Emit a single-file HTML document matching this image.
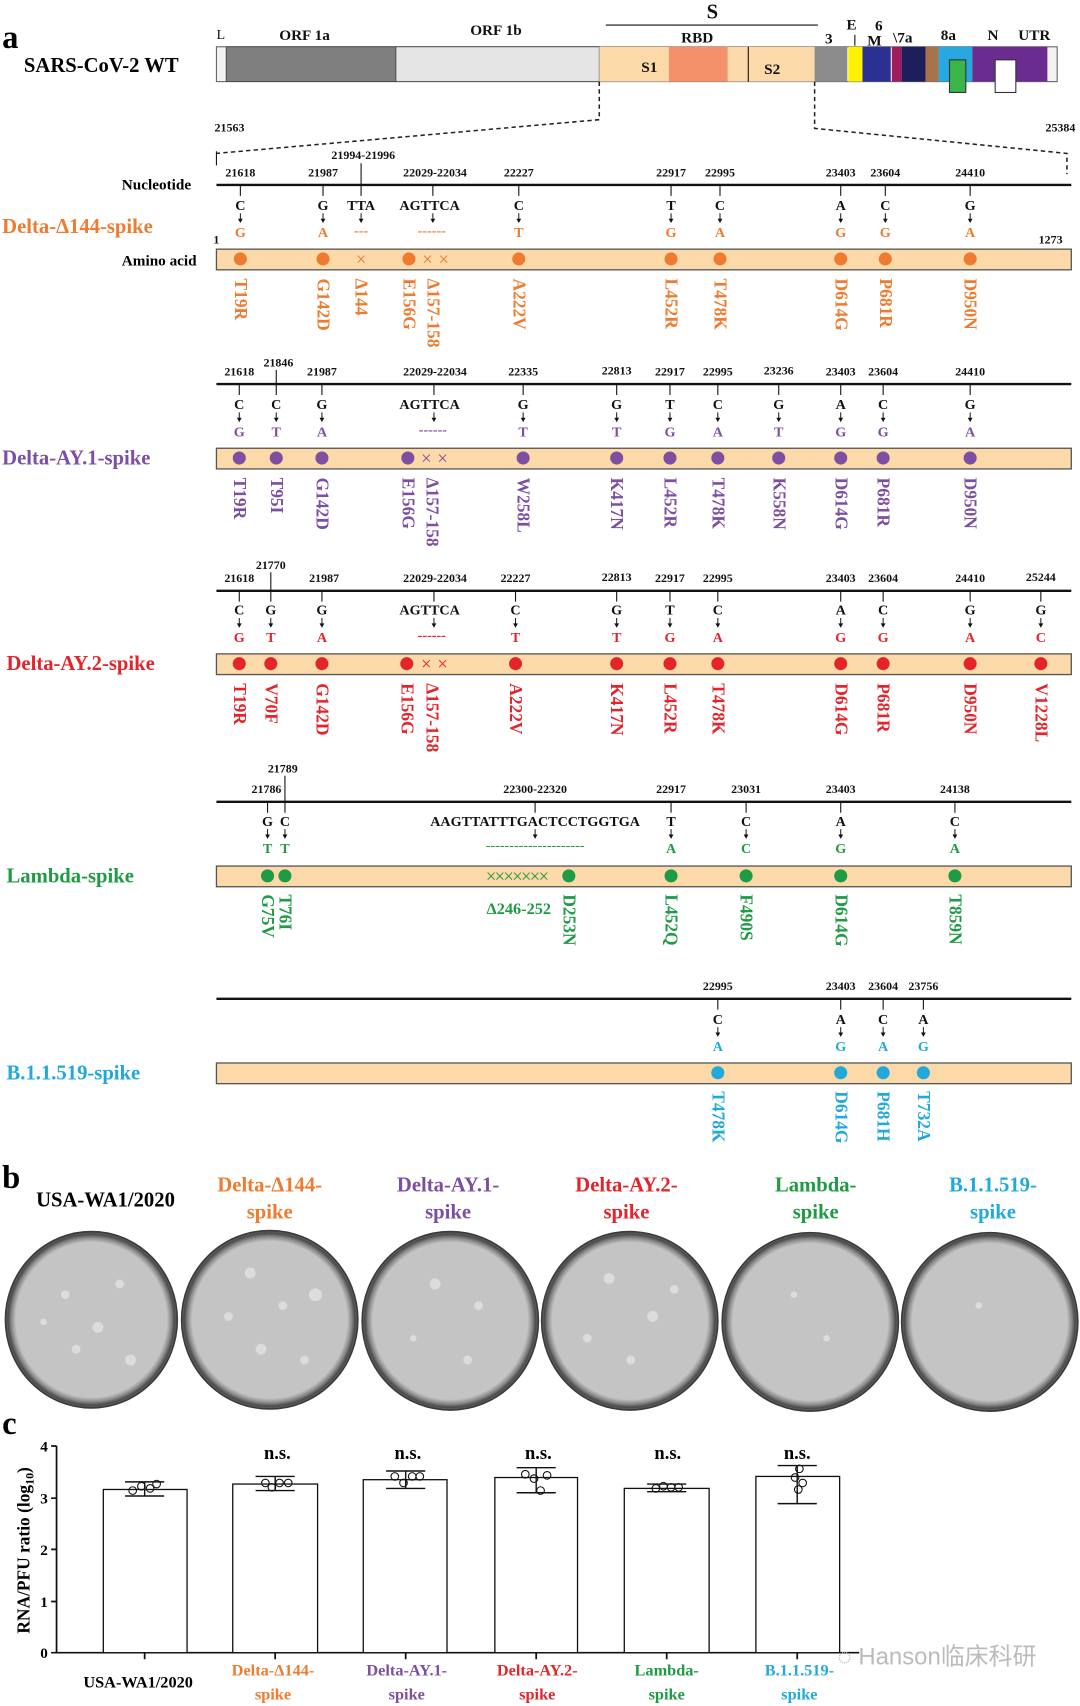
<!DOCTYPE html>
<html><head><meta charset="utf-8"><style>
html,body{margin:0;padding:0;background:#fff}
svg{display:block}
text{font-family:"Liberation Serif","Noto Serif CJK SC",serif;font-weight:bold}
.n{font-size:11px;text-anchor:middle;fill:#111}
.t{font-size:13px;text-anchor:middle;fill:#111}
.r{font-size:16px}
.h{font-size:19px}
.o{fill:#ee7b30}.p{fill:#7d4fa0}.d{fill:#e3252b}.g{fill:#1f9a45}.c{fill:#21a8dd}
.bar{fill:#fbd9a8;stroke:#555;stroke-width:1.2}
.k{stroke:#111;stroke-width:1}
.ar{stroke:#111;stroke-width:0.9;fill:none}
.hd{fill:#111}
.x{font-size:17px;text-anchor:middle;font-weight:normal}
</style></head><body>
<svg width="1080" height="1706" viewBox="0 0 993 1568" preserveAspectRatio="none" xmlns="http://www.w3.org/2000/svg">
<defs>
<radialGradient id="pl" cx="50%" cy="50%" r="50%"><stop offset="0.88" stop-color="#c4c4c4"/><stop offset="0.93" stop-color="#8a8a8a"/><stop offset="0.97" stop-color="#4a4a4a"/><stop offset="1" stop-color="#6a6a6a"/></radialGradient></defs>

<!-- panel a genome -->
<text x="2" y="44" style="font-size:30px">a</text>
<text x="22" y="66" class="h">SARS-CoV-2 WT</text>
<rect x="199" y="43" width="773" height="32" fill="#f2f2f2" stroke="#666"/>
<rect x="208" y="43" width="156" height="32" fill="#7f7f80" stroke="#444" stroke-width="0.8"/>
<rect x="364" y="43" width="187" height="32" fill="#e5e5e5" stroke="#444" stroke-width="0.8"/>
<rect x="551" y="43" width="198" height="32" fill="#fbd9a8"/>
<rect x="615" y="43" width="54" height="32" fill="#f3926a"/>
<line x1="688" y1="43" x2="688" y2="75" class="k"/>
<rect x="749" y="43" width="30" height="32" fill="#8c8c8c"/>
<rect x="780" y="43" width="13" height="32" fill="#fff200"/>
<rect x="793" y="43" width="26" height="32" fill="#2a3192"/>
<rect x="820" y="43" width="9" height="32" fill="#a01c5c"/>
<rect x="829" y="43" width="22" height="32" fill="#1c1f5c"/>
<rect x="851" y="43" width="12" height="32" fill="#a87348"/>
<rect x="863" y="43" width="31" height="32" fill="#27a8e0"/>
<rect x="894" y="43" width="69" height="32" fill="#6a2c91"/>
<rect x="873" y="55" width="15" height="30" fill="#3ab54a" stroke="#333"/>
<rect x="915" y="55" width="19" height="30" fill="#fff" stroke="#333"/>
<text x="597" y="66" class="t" style="font-size:14px">S1</text>
<text x="710" y="68" class="t" style="font-size:14px">S2</text>
<text x="203" y="36" class="t" style="font-weight:normal">L</text>
<text x="280" y="37" class="t" style="font-size:14px">ORF 1a</text>
<text x="456" y="32" class="t" style="font-size:14px">ORF 1b</text>
<text x="655" y="17" class="t" style="font-size:19px">S</text>
<line x1="557" y1="23" x2="752" y2="23" class="k"/>
<text x="641" y="39" class="t" style="font-size:14px">RBD</text>
<text x="762" y="40" class="t" style="font-size:14px">3</text>
<text x="783" y="27" class="t" style="font-size:14px">E</text>
<line x1="786" y1="32" x2="786" y2="42" class="k"/>
<text x="808" y="28" class="t" style="font-size:14px">6</text>
<text x="804" y="42" class="t" style="font-size:14px">M</text>
<text x="830" y="39" class="t" style="font-size:14px">\7a</text>
<text x="872" y="37" class="t" style="font-size:14px">8a</text>
<text x="913" y="37" class="t" style="font-size:14px">N</text>
<text x="951" y="37" class="t" style="font-size:14px">UTR</text>
<g stroke="#222" stroke-width="1.4" stroke-dasharray="4,3" fill="none">
<path d="M551 75 V110 L199 141"/><path d="M749 75 V118 L981 141 V160"/></g>
<line x1="199" y1="139" x2="199" y2="152" class="k"/>
<text x="211" y="121" class="n">21563</text>
<text x="975" y="121" class="n">25384</text>

<!-- Section 1 -->
<text x="112" y="174" style="font-size:14px">Nucleotide</text>
<text x="2" y="214" class="h o">Delta-Δ144-spike</text>
<text x="112" y="244" style="font-size:14px">Amino acid</text>
<text x="199" y="224" class="n">1</text><text x="966" y="224" class="n">1273</text>
<line x1="199" y1="170" x2="985" y2="170" stroke="#111" stroke-width="2.2"/>
<rect x="199" y="229" width="786" height="19" class="bar"/>
<g>
<text x="221" y="162" class="n">21618</text><text x="297" y="162" class="n">21987</text><text x="334" y="146" class="n">21994-21996</text><text x="400" y="162" class="n">22029-22034</text><text x="477" y="162" class="n">22227</text><text x="617" y="162" class="n">22917</text><text x="662" y="162" class="n">22995</text><text x="773" y="162" class="n">23403</text><text x="814" y="162" class="n">23604</text><text x="892" y="162" class="n">24410</text>
<path d="M221 170v10M297 170v10M332 150v30M398 170v10M477 170v10M617 170v10M662 170v10M773 170v10M814 170v10M892 170v10" class="k"/>
<text x="221" y="193" class="t">C</text><text x="297" y="193" class="t">G</text><text x="332" y="193" class="t">TTA</text><text x="395" y="193" class="t">AGTTCA</text><text x="477" y="193" class="t">C</text><text x="617" y="193" class="t">T</text><text x="662" y="193" class="t">C</text><text x="773" y="193" class="t">A</text><text x="814" y="193" class="t">C</text><text x="892" y="193" class="t">G</text>
<path d="M221 196v6M297 196v6M332 196v6M398 196v6M477 196v6M617 196v6M662 196v6M773 196v6M814 196v6M892 196v6" class="ar"/>
<path class="hd" d="M218.8 201h4.4l-2.2 4zM294.8 201h4.4l-2.2 4zM329.8 201h4.4l-2.2 4zM395.8 201h4.4l-2.2 4zM474.8 201h4.4l-2.2 4zM614.8 201h4.4l-2.2 4zM659.8 201h4.4l-2.2 4zM770.8 201h4.4l-2.2 4zM811.8 201h4.4l-2.2 4zM889.8 201h4.4l-2.2 4z"/>
<text x="221" y="218" class="t o">G</text><text x="297" y="218" class="t o">A</text><text x="332" y="216" class="t o">---</text><text x="397" y="216" class="t o">------</text><text x="477" y="218" class="t o">T</text><text x="617" y="218" class="t o">G</text><text x="662" y="218" class="t o">A</text><text x="773" y="218" class="t o">G</text><text x="814" y="218" class="t o">G</text><text x="892" y="218" class="t o">A</text>
<g class="o"><circle cx="221" cy="238" r="6"/><circle cx="297" cy="238" r="6"/><circle cx="376" cy="238" r="6"/><circle cx="477" cy="238" r="6"/><circle cx="617" cy="238" r="6"/><circle cx="662" cy="238" r="6"/><circle cx="773" cy="238" r="6"/><circle cx="814" cy="238" r="6"/><circle cx="892" cy="238" r="6"/></g>
<text x="332" y="244" class="x o">×</text><text x="393" y="244" class="x o">×</text><text x="408" y="244" class="x o">×</text>
<text transform="translate(216,256) rotate(90)" class="r o">T19R</text><text transform="translate(292,256) rotate(90)" class="r o">G142D</text><text transform="translate(327,256) rotate(90)" class="r o">Δ144</text><text transform="translate(371,256) rotate(90)" class="r o">E156G</text><text transform="translate(393,256) rotate(90)" class="r o">Δ157-158</text><text transform="translate(472,256) rotate(90)" class="r o">A222V</text><text transform="translate(612,256) rotate(90)" class="r o">L452R</text><text transform="translate(657,256) rotate(90)" class="r o">T478K</text><text transform="translate(768,256) rotate(90)" class="r o">D614G</text><text transform="translate(809,256) rotate(90)" class="r o">P681R</text><text transform="translate(887,256) rotate(90)" class="r o">D950N</text>
</g>

<!-- Section 2 -->
<text x="2" y="427" class="h p">Delta-AY.1-spike</text>
<line x1="199" y1="353" x2="985" y2="353" stroke="#111" stroke-width="2.2"/>
<rect x="199" y="412" width="786" height="19" class="bar"/>
<text x="220" y="345" class="n">21618</text><text x="256" y="337" class="n">21846</text><text x="296" y="345" class="n">21987</text><text x="400" y="345" class="n">22029-22034</text><text x="481" y="345" class="n">22335</text><text x="567" y="344" class="n">22813</text><text x="616" y="345" class="n">22917</text><text x="660" y="345" class="n">22995</text><text x="716" y="344" class="n">23236</text><text x="773" y="345" class="n">23403</text><text x="812" y="345" class="n">23604</text><text x="892" y="345" class="n">24410</text>
<path d="M220 353v10M254 340v23M296 353v10M399 353v10M481 353v10M567 353v10M616 353v10M660 353v10M716 353v10M773 353v10M812 353v10M892 353v10" class="k"/>
<text x="220" y="376" class="t">C</text><text x="254" y="376" class="t">C</text><text x="296" y="376" class="t">G</text><text x="395" y="376" class="t">AGTTCA</text><text x="481" y="376" class="t">G</text><text x="567" y="376" class="t">G</text><text x="616" y="376" class="t">T</text><text x="660" y="376" class="t">C</text><text x="716" y="376" class="t">G</text><text x="773" y="376" class="t">A</text><text x="812" y="376" class="t">C</text><text x="892" y="376" class="t">G</text>
<path d="M220 379v6M254 379v6M296 379v6M399 379v6M481 379v6M567 379v6M616 379v6M660 379v6M716 379v6M773 379v6M812 379v6M892 379v6" class="ar"/>
<path class="hd" d="M217.8 384h4.4l-2.2 4zM251.8 384h4.4l-2.2 4zM293.8 384h4.4l-2.2 4zM396.8 384h4.4l-2.2 4zM478.8 384h4.4l-2.2 4zM564.8 384h4.4l-2.2 4zM613.8 384h4.4l-2.2 4zM657.8 384h4.4l-2.2 4zM713.8 384h4.4l-2.2 4zM770.8 384h4.4l-2.2 4zM809.8 384h4.4l-2.2 4zM889.8 384h4.4l-2.2 4z"/>
<text x="220" y="401" class="t p">G</text><text x="254" y="401" class="t p">T</text><text x="296" y="401" class="t p">A</text><text x="398" y="399" class="t p">------</text><text x="481" y="401" class="t p">T</text><text x="567" y="401" class="t p">T</text><text x="616" y="401" class="t p">G</text><text x="660" y="401" class="t p">A</text><text x="716" y="401" class="t p">T</text><text x="773" y="401" class="t p">G</text><text x="812" y="401" class="t p">G</text><text x="892" y="401" class="t p">A</text>
<g class="p"><circle cx="220" cy="421" r="6"/><circle cx="254" cy="421" r="6"/><circle cx="296" cy="421" r="6"/><circle cx="375" cy="421" r="6"/><circle cx="481" cy="421" r="6"/><circle cx="567" cy="421" r="6"/><circle cx="616" cy="421" r="6"/><circle cx="660" cy="421" r="6"/><circle cx="716" cy="421" r="6"/><circle cx="773" cy="421" r="6"/><circle cx="812" cy="421" r="6"/><circle cx="892" cy="421" r="6"/></g>
<text x="392" y="427" class="x p">×</text><text x="407" y="427" class="x p">×</text>
<text transform="translate(215,439) rotate(90)" class="r p">T19R</text><text transform="translate(249,439) rotate(90)" class="r p">T95I</text><text transform="translate(291,439) rotate(90)" class="r p">G142D</text><text transform="translate(370,439) rotate(90)" class="r p">E156G</text><text transform="translate(392,439) rotate(90)" class="r p">Δ157-158</text><text transform="translate(476,439) rotate(90)" class="r p">W258L</text><text transform="translate(562,439) rotate(90)" class="r p">K417N</text><text transform="translate(611,439) rotate(90)" class="r p">L452R</text><text transform="translate(655,439) rotate(90)" class="r p">T478K</text><text transform="translate(711,439) rotate(90)" class="r p">K558N</text><text transform="translate(768,439) rotate(90)" class="r p">D614G</text><text transform="translate(807,439) rotate(90)" class="r p">P681R</text><text transform="translate(887,439) rotate(90)" class="r p">D950N</text>

<!-- Section 3 -->
<text x="6" y="616" class="h d">Delta-AY.2-spike</text>
<line x1="199" y1="543" x2="985" y2="543" stroke="#111" stroke-width="2.2"/>
<rect x="199" y="601" width="786" height="19" class="bar"/>
<text x="220" y="535" class="n">21618</text><text x="249" y="523" class="n">21770</text><text x="298" y="535" class="n">21987</text><text x="400" y="535" class="n">22029-22034</text><text x="474" y="535" class="n">22227</text><text x="567" y="534" class="n">22813</text><text x="616" y="535" class="n">22917</text><text x="660" y="535" class="n">22995</text><text x="773" y="535" class="n">23403</text><text x="812" y="535" class="n">23604</text><text x="892" y="535" class="n">24410</text><text x="957" y="534" class="n">25244</text>
<path d="M220 543v10M249 526v27M296 543v10M399 543v10M474 543v10M567 543v10M616 543v10M660 543v10M773 543v10M812 543v10M892 543v10M957 543v10" class="k"/>
<text x="220" y="565" class="t">C</text><text x="249" y="565" class="t">G</text><text x="296" y="565" class="t">G</text><text x="395" y="565" class="t">AGTTCA</text><text x="474" y="565" class="t">C</text><text x="567" y="565" class="t">G</text><text x="616" y="565" class="t">T</text><text x="660" y="565" class="t">C</text><text x="773" y="565" class="t">A</text><text x="812" y="565" class="t">C</text><text x="892" y="565" class="t">G</text><text x="957" y="565" class="t">G</text>
<path d="M220 568v6M249 568v6M296 568v6M399 568v6M474 568v6M567 568v6M616 568v6M660 568v6M773 568v6M812 568v6M892 568v6M957 568v6" class="ar"/>
<path class="hd" d="M217.8 573h4.4l-2.2 4zM246.8 573h4.4l-2.2 4zM293.8 573h4.4l-2.2 4zM396.8 573h4.4l-2.2 4zM471.8 573h4.4l-2.2 4zM564.8 573h4.4l-2.2 4zM613.8 573h4.4l-2.2 4zM657.8 573h4.4l-2.2 4zM770.8 573h4.4l-2.2 4zM809.8 573h4.4l-2.2 4zM889.8 573h4.4l-2.2 4zM954.8 573h4.4l-2.2 4z"/>
<text x="220" y="590" class="t d">G</text><text x="249" y="590" class="t d">T</text><text x="296" y="590" class="t d">A</text><text x="397" y="588" class="t d">------</text><text x="474" y="590" class="t d">T</text><text x="567" y="590" class="t d">T</text><text x="616" y="590" class="t d">G</text><text x="660" y="590" class="t d">A</text><text x="773" y="590" class="t d">G</text><text x="812" y="590" class="t d">G</text><text x="892" y="590" class="t d">A</text><text x="957" y="590" class="t d">C</text>
<g class="d"><circle cx="220" cy="610" r="6"/><circle cx="249" cy="610" r="6"/><circle cx="296" cy="610" r="6"/><circle cx="374" cy="610" r="6"/><circle cx="474" cy="610" r="6"/><circle cx="567" cy="610" r="6"/><circle cx="616" cy="610" r="6"/><circle cx="660" cy="610" r="6"/><circle cx="773" cy="610" r="6"/><circle cx="812" cy="610" r="6"/><circle cx="892" cy="610" r="6"/><circle cx="957" cy="610" r="6"/></g>
<text x="392" y="616" class="x d">×</text><text x="407" y="616" class="x d">×</text>
<text transform="translate(215,628) rotate(90)" class="r d">T19R</text><text transform="translate(244,628) rotate(90)" class="r d">V70F</text><text transform="translate(291,628) rotate(90)" class="r d">G142D</text><text transform="translate(369,628) rotate(90)" class="r d">E156G</text><text transform="translate(392,628) rotate(90)" class="r d">Δ157-158</text><text transform="translate(469,628) rotate(90)" class="r d">A222V</text><text transform="translate(562,628) rotate(90)" class="r d">K417N</text><text transform="translate(611,628) rotate(90)" class="r d">L452R</text><text transform="translate(655,628) rotate(90)" class="r d">T478K</text><text transform="translate(768,628) rotate(90)" class="r d">D614G</text><text transform="translate(807,628) rotate(90)" class="r d">P681R</text><text transform="translate(887,628) rotate(90)" class="r d">D950N</text><text transform="translate(952,628) rotate(90)" class="r d">V1228L</text>

<!-- Section 4 Lambda -->
<text x="6" y="811" class="h g">Lambda-spike</text>
<line x1="199" y1="737" x2="985" y2="737" stroke="#111" stroke-width="2.2"/>
<rect x="199" y="796" width="786" height="19" class="bar"/>
<text x="245" y="729" class="n">21786</text><text x="260" y="710" class="n">21789</text><text x="492" y="729" class="n">22300-22320</text><text x="617" y="729" class="n">22917</text><text x="686" y="729" class="n">23031</text><text x="773" y="729" class="n">23403</text><text x="878" y="729" class="n">24138</text>
<path d="M246 737v10M262 713v34M492 737v10M617 737v10M686 737v10M773 737v10M878 737v10" class="k"/>
<text x="246" y="759" class="t">G</text><text x="262" y="759" class="t">C</text><text x="492" y="759" class="t">AAGTTATTTGACTCCTGGTGA</text><text x="617" y="759" class="t">T</text><text x="686" y="759" class="t">C</text><text x="773" y="759" class="t">A</text><text x="878" y="759" class="t">C</text>
<path d="M246 762v6M262 762v6M492 762v6M617 762v6M686 762v6M773 762v6M878 762v6" class="ar"/>
<path class="hd" d="M243.8 767h4.4l-2.2 4zM259.8 767h4.4l-2.2 4zM489.8 767h4.4l-2.2 4zM614.8 767h4.4l-2.2 4zM683.8 767h4.4l-2.2 4zM770.8 767h4.4l-2.2 4zM875.8 767h4.4l-2.2 4z"/>
<text x="246" y="784" class="t g">T</text><text x="262" y="784" class="t g">T</text><text x="492" y="781" class="t g" style="font-weight:normal">---------------------</text><text x="617" y="784" class="t g">A</text><text x="686" y="784" class="t g">C</text><text x="773" y="784" class="t g">G</text><text x="878" y="784" class="t g">A</text>
<g class="g"><circle cx="246" cy="805" r="6"/><circle cx="262" cy="805" r="6"/><circle cx="523" cy="805" r="6"/><circle cx="617" cy="805" r="6"/><circle cx="686" cy="805" r="6"/><circle cx="773" cy="805" r="6"/><circle cx="878" cy="805" r="6"/></g>
<text x="475" y="811" class="x g" style="letter-spacing:-1.5px">×××××××</text>
<text x="477" y="840" class="g" style="font-size:15px;text-anchor:middle">Δ246-252</text>
<text transform="translate(241,822) rotate(90)" class="r g">G75V</text><text transform="translate(257,822) rotate(90)" class="r g">T76I</text><text transform="translate(518,822) rotate(90)" class="r g">D253N</text><text transform="translate(612,822) rotate(90)" class="r g">L452Q</text><text transform="translate(681,822) rotate(90)" class="r g">F490S</text><text transform="translate(768,822) rotate(90)" class="r g">D614G</text><text transform="translate(873,822) rotate(90)" class="r g">T859N</text>

<!-- Section 5 -->
<text x="6" y="992" class="h c">B.1.1.519-spike</text>
<line x1="199" y1="918" x2="985" y2="918" stroke="#111" stroke-width="2.2"/>
<rect x="199" y="977" width="786" height="19" class="bar"/>
<text x="660" y="910" class="n">22995</text><text x="773" y="910" class="n">23403</text><text x="812" y="910" class="n">23604</text><text x="849" y="910" class="n">23756</text>
<path d="M660 918v10M773 918v10M812 918v10M849 918v10" class="k"/>
<text x="660" y="941" class="t">C</text><text x="773" y="941" class="t">A</text><text x="812" y="941" class="t">C</text><text x="849" y="941" class="t">A</text>
<path d="M660 944v6M773 944v6M812 944v6M849 944v6" class="ar"/>
<path class="hd" d="M657.8 949h4.4l-2.2 4zM770.8 949h4.4l-2.2 4zM809.8 949h4.4l-2.2 4zM846.8 949h4.4l-2.2 4z"/>
<text x="660" y="966" class="t c">A</text><text x="773" y="966" class="t c">G</text><text x="812" y="966" class="t c">A</text><text x="849" y="966" class="t c">G</text>
<g class="c"><circle cx="660" cy="986" r="6"/><circle cx="773" cy="986" r="6"/><circle cx="812" cy="986" r="6"/><circle cx="849" cy="986" r="6"/></g>
<text transform="translate(655,1003) rotate(90)" class="r c">T478K</text><text transform="translate(768,1003) rotate(90)" class="r c">D614G</text><text transform="translate(807,1003) rotate(90)" class="r c">P681H</text><text transform="translate(844,1003) rotate(90)" class="r c">T732A</text>

<!-- Panel b -->
<text x="2" y="1092" style="font-size:30px">b</text>
<g>
<text x="97" y="1109" style="text-anchor:middle;font-size:19px">USA-WA1/2020</text>
<text x="248" y="1095" class="o" style="text-anchor:middle;font-size:19px">Delta-Δ144-</text><text x="248" y="1120" class="o" style="text-anchor:middle;font-size:19px">spike</text>
<text x="412" y="1095" class="p" style="text-anchor:middle;font-size:19px">Delta-AY.1-</text><text x="412" y="1120" class="p" style="text-anchor:middle;font-size:19px">spike</text>
<text x="576" y="1095" class="d" style="text-anchor:middle;font-size:19px">Delta-AY.2-</text><text x="576" y="1120" class="d" style="text-anchor:middle;font-size:19px">spike</text>
<text x="750" y="1095" class="g" style="text-anchor:middle;font-size:19px">Lambda-</text><text x="750" y="1120" class="g" style="text-anchor:middle;font-size:19px">spike</text>
<text x="913" y="1095" class="c" style="text-anchor:middle;font-size:19px">B.1.1.519-</text><text x="913" y="1120" class="c" style="text-anchor:middle;font-size:19px">spike</text>
</g>
<g fill="url(#pl)" stroke="#3a3a3a" stroke-width="1.5">
<ellipse cx="84" cy="1213" rx="79" ry="81"/><ellipse cx="248" cy="1213" rx="81" ry="82"/><ellipse cx="414" cy="1214" rx="81" ry="82"/><ellipse cx="579" cy="1214" rx="81" ry="82"/><ellipse cx="745" cy="1215" rx="81" ry="82"/><ellipse cx="910" cy="1215" rx="81" ry="82"/></g>
<g fill="#e2e2e2" opacity="0.8">
<circle cx="60" cy="1190" r="4"/><circle cx="90" cy="1220" r="5"/><circle cx="110" cy="1180" r="4"/><circle cx="70" cy="1240" r="4"/><circle cx="120" cy="1250" r="5"/><circle cx="40" cy="1215" r="3"/>
<circle cx="230" cy="1170" r="5"/><circle cx="260" cy="1200" r="4"/><circle cx="290" cy="1190" r="6"/><circle cx="240" cy="1240" r="5"/><circle cx="210" cy="1210" r="4"/><circle cx="280" cy="1250" r="4"/>
<circle cx="400" cy="1180" r="5"/><circle cx="440" cy="1200" r="4"/><circle cx="430" cy="1250" r="4"/><circle cx="380" cy="1230" r="3"/>
<circle cx="560" cy="1175" r="5"/><circle cx="600" cy="1210" r="5"/><circle cx="580" cy="1250" r="4"/><circle cx="540" cy="1230" r="4"/><circle cx="620" cy="1185" r="4"/>
<circle cx="730" cy="1190" r="3"/><circle cx="760" cy="1230" r="3"/><circle cx="900" cy="1200" r="3"/></g>

<!-- Panel c -->
<text x="2" y="1318" style="font-size:30px">c</text>
<g stroke="#111" stroke-width="1.6" fill="none">
<path d="M52 1329 V1519 H790"/>
<path d="M47 1329h5M47 1377h5M47 1424h5M47 1472h5M47 1519h5"/>
<path d="M133 1519v6M253 1519v6M373 1519v6M493 1519v6M613 1519v6M733 1519v6"/>
</g>
<g style="font-size:14px;text-anchor:end"><text x="44" y="1334">4</text><text x="44" y="1382">3</text><text x="44" y="1429">2</text><text x="44" y="1477">1</text><text x="44" y="1524">0</text></g>
<text transform="translate(27,1425) rotate(-90)" style="font-size:16px;text-anchor:middle">RNA/PFU ratio (log<tspan dy="4" style="font-size:11px">10</tspan><tspan dy="-4">)</tspan></text>
<g fill="#fff" stroke="#111" stroke-width="1.2">
<rect x="95" y="1369" width="77" height="150"/><rect x="214" y="1364" width="78" height="155"/><rect x="334" y="1360" width="77" height="159"/><rect x="455" y="1358" width="76" height="161"/><rect x="574" y="1368" width="78" height="151"/><rect x="695" y="1357" width="77" height="162"/></g>
<g stroke="#111" stroke-width="1.3" fill="none">
<path d="M115 1362h36M115 1375h36M133 1362v13"/>
<path d="M235 1357h36M235 1370h36M253 1357v13"/>
<path d="M355 1352h36M355 1368h36M373 1352v16"/>
<path d="M475 1349h36M475 1372h36M493 1349v23"/>
<path d="M595 1364h36M595 1371h36"/>
<path d="M715 1347h36M715 1382h36M733 1347v35"/>
</g>
<g fill="none" stroke="#111" stroke-width="1"><circle cx="122" cy="1370" r="3.5"/><circle cx="130" cy="1366" r="3.5"/><circle cx="138" cy="1368" r="3.5"/><circle cx="144" cy="1364" r="3.5"/>
<circle cx="244" cy="1363" r="3.5"/><circle cx="250" cy="1367" r="3.5"/><circle cx="257" cy="1363" r="3.5"/><circle cx="265" cy="1363" r="3.5"/>
<circle cx="363" cy="1357" r="3.5"/><circle cx="371" cy="1363" r="3.5"/><circle cx="379" cy="1357" r="3.5"/><circle cx="386" cy="1357" r="3.5"/>
<circle cx="483" cy="1355" r="3.5"/><circle cx="491" cy="1359" r="3.5"/><circle cx="497" cy="1370" r="3.5"/><circle cx="503" cy="1356" r="3.5"/>
<circle cx="603" cy="1368" r="3.5"/><circle cx="610" cy="1366" r="3.5"/><circle cx="617" cy="1367" r="3.5"/><circle cx="624" cy="1367" r="3.5"/>
<circle cx="735" cy="1350" r="3.5"/><circle cx="731" cy="1358" r="3.5"/><circle cx="738" cy="1363" r="3.5"/><circle cx="734" cy="1369" r="3.5"/></g>
<g style="font-size:17px;text-anchor:middle"><text x="255" y="1341">n.s.</text><text x="375" y="1341">n.s.</text><text x="495" y="1341">n.s.</text><text x="614" y="1341">n.s.</text><text x="733" y="1341">n.s.</text></g>
<g style="font-size:15px;text-anchor:middle">
<text x="127" y="1551">USA-WA1/2020</text>
<text x="251" y="1540" class="o">Delta-Δ144-</text><text x="251" y="1562" class="o">spike</text>
<text x="374" y="1540" class="p">Delta-AY.1-</text><text x="374" y="1562" class="p">spike</text>
<text x="494" y="1540" class="d">Delta-AY.2-</text><text x="494" y="1562" class="d">spike</text>
<text x="613" y="1540" class="g">Lambda-</text><text x="613" y="1562" class="g">spike</text>
<text x="735" y="1540" class="c">B.1.1.519-</text><text x="735" y="1562" class="c">spike</text></g>
<text x="770" y="1530" style="font-size:22px;font-weight:normal;fill:#bbb;font-family:'Liberation Sans','Noto Sans CJK SC',sans-serif">◌ Hanson临床科研</text>
</svg>
</body></html>
